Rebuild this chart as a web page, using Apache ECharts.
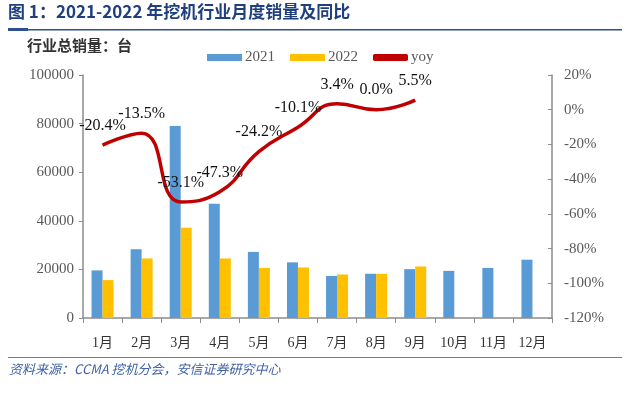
<!DOCTYPE html>
<html>
<head>
<meta charset="utf-8">
<script src="https://cdn.jsdelivr.net/npm/echarts@6/dist/echarts.min.js"></script>
<style>
  html, body { margin: 0; padding: 0; background: #fff; }
  #chart { width: 631px; height: 399px; }
</style>
</head>
<body>
<div id="chart"></div>
<script>
const months = ["1月", "2月", "3月", "4月", "5月", "6月", "7月", "8月", "9月", "10月", "11月", "12月"];
const sales2021 = [19600, 28300, 79000, 47000, 27200, 22900, 17300, 18200, 20100, 19400, 20600, 24000];
const sales2022 = [15600, 24500, 37100, 24500, 20600, 20800, 17900, 18200, 21200];
const yoy = [-20.4, -13.5, -53.1, -47.3, -24.2, -10.1, 3.4, 0.0, 5.5];
const leftTicks = [0, 100000, 20000];
const rightTicks = [-120, 20, 20];

const serif = "'Liberation Serif', 'Times New Roman', 'Noto Sans CJK SC', serif";
const cjk = "'Noto Sans CJK SC'";
const axisGrey = "#8c8c8c";

const chart = echarts.init(document.getElementById("chart"), null, { renderer: "canvas" });
chart.setOption({
  animation: false,
  backgroundColor: "#fff",
  color: ["#5b9bd5", "#ffc000", "#c00000"],
  grid: { left: 83, right: 79, top: 75, bottom: 81 },
  legend: {
    top: 45,
    left: 202,
    itemWidth: 35,
    itemHeight: 7,
    itemGap: 15,
    textStyle: { fontFamily: serif, fontSize: 15, color: "#595959", padding: [0, 0, 0, -2] },
    data: [
      { name: "2021", icon: "rect" },
      { name: "2022", icon: "rect" },
      { name: "yoy", icon: "roundRect", itemStyle: { color: "#c00000" } }
    ]
  },
  xAxis: {
    type: "category",
    data: months,
    axisLine: { lineStyle: { color: axisGrey, width: 1.5 } },
    axisTick: { show: true, length: 5, lineStyle: { color: axisGrey } },
    axisLabel: { fontFamily: serif, fontSize: 14, color: "#333", margin: 18 }
  },
  yAxis: [
    {
      type: "value",
      min: leftTicks[0], max: leftTicks[1], interval: leftTicks[2],
      axisLine: { show: true, lineStyle: { color: axisGrey, width: 1.5 } },
      axisTick: { show: true, length: 4, lineStyle: { color: axisGrey } },
      splitLine: { show: false },
      axisLabel: { fontFamily: serif, fontSize: 15, color: "#595959", margin: 9, formatter: v => String(v) }
    },
    {
      type: "value",
      min: rightTicks[0], max: rightTicks[1], interval: rightTicks[2],
      position: "right",
      axisLine: { show: true, lineStyle: { color: axisGrey, width: 1.5 } },
      axisTick: { show: true, inside: true, length: 4, lineStyle: { color: axisGrey } },
      splitLine: { show: false },
      axisLabel: { fontFamily: serif, fontSize: 15, color: "#595959", margin: 12, formatter: "{value}%" }
    }
  ],
  series: [
    { name: "2021", type: "bar", data: sales2021, barWidth: 11, barGap: "0%" },
    { name: "2022", type: "bar", data: sales2022, barWidth: 11, barGap: "0%" },
    {
      name: "yoy", type: "line", yAxisIndex: 1, data: yoy, smooth: 0.5,
      symbol: "circle", symbolSize: 1, showSymbol: true,
      itemStyle: { color: "rgba(0,0,0,0)" },
      lineStyle: { color: "#c00000", width: 3.5 },
      label: {
        show: true, position: "top", distance: 11,
        fontFamily: serif, fontSize: 16, color: "#111",
        formatter: p => p.value.toFixed(1) + "%"
      }
    }
  ],
  graphic: [
    { type: "text", left: 8, top: 3, style: { text: "图 1：2021-2022 年挖机行业月度销量及同比", font: "bold 17px " + cjk, fill: "#1f3f7f" } },
    { type: "rect", shape: { x: 8, y: 29, width: 614, height: 1.5 }, style: { fill: "#2f4f8f" } },
    { type: "rect", shape: { x: 8, y: 28, width: 20, height: 3 }, style: { fill: "#2f4f8f" } },
    { type: "text", left: 27, top: 38, style: { text: "行业总销量：台", font: "bold 15px " + cjk, fill: "#333" } },
    { type: "rect", shape: { x: 8, y: 357, width: 614, height: 1 }, style: { fill: "#5b7fbf" } },
    { type: "text", left: 9, top: 363, style: { text: "资料来源：CCMA 挖机分会，安信证券研究中心", font: "italic 13px " + cjk, fill: "#3f62a8" } }
  ]
});
</script>
</body>
</html>
